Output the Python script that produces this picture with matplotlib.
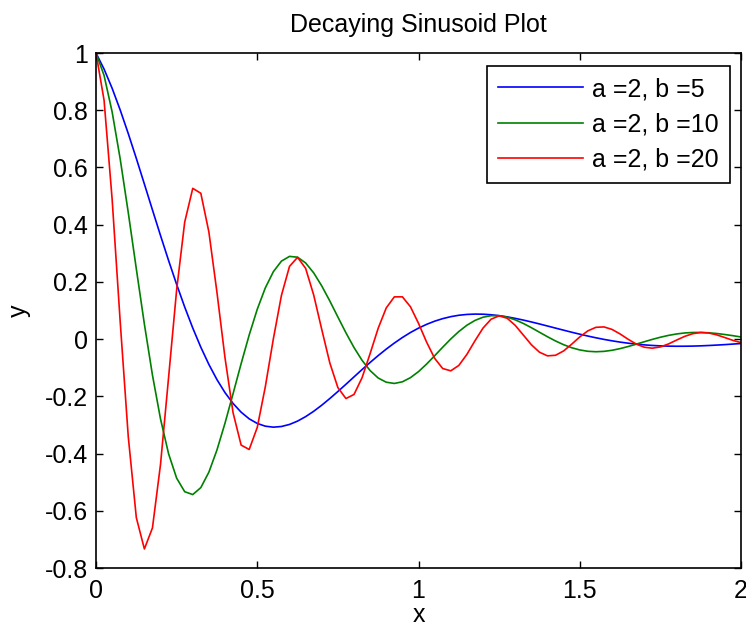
import numpy as np
import matplotlib
matplotlib.use('Agg')
from matplotlib import pyplot as plt

plt.rcParams['font.family'] = ['Liberation Sans', 'DejaVu Sans']

# x grid, step 0.025 from 0 to 2
x = np.linspace(0, 2, 81)

# values, a = 2, b = 5
y_b5 = [1.000, 0.9438, 0.8767, 0.8009, 0.7185, 0.6316, 0.5420, 0.4517, 0.3622, 0.2749,
        0.1913, 0.1122, 0.0388, -0.0283, -0.0885, -0.1415, -0.1870, -0.2249, -0.2554, -0.2786,
        -0.2947, -0.3043, -0.3077, -0.3054, -0.2982, -0.2865, -0.2709, -0.2522, -0.2309, -0.2076,
        -0.1831, -0.1578, -0.1320, -0.1063, -0.0815, -0.0575, -0.0348, -0.0138, 0.0056, 0.0231,
        0.0384, 0.0516, 0.0627, 0.0716, 0.0785, 0.0834, 0.0863, 0.0875, 0.0871, 0.0852,
        0.0820, 0.0778, 0.0725, 0.0666, 0.0600, 0.0531, 0.0458, 0.0385, 0.0313, 0.0241,
        0.0173, 0.0108, 0.0047, -0.0009, -0.0059, -0.0104, -0.0142, -0.0174, -0.0201, -0.0221,
        -0.0236, -0.0245, -0.0249, -0.0248, -0.0244, -0.0235, -0.0223, -0.0208, -0.0192, -0.0173,
        -0.0154]

# a = 2, b = 10
y_b10 = [1.000, 0.9216, 0.7941, 0.6298, 0.4424, 0.2456, 0.0524, -0.1256, -0.2789, -0.4006,
         -0.4859, -0.5333, -0.5433, -0.5190, -0.4650, -0.3876, -0.2937, -0.1907, -0.0857, 0.0145,
         0.1044, 0.1791, 0.2359, 0.2727, 0.2892, 0.2863, 0.2662, 0.2315, 0.1859, 0.1333,
         0.0773, 0.0220, -0.0294, -0.0742, -0.1100, -0.1359, -0.1506, -0.1549, -0.1492, -0.1347,
         -0.1136, -0.0873, -0.0582, -0.0283, 0.0005, 0.0265, 0.0485, 0.0653, 0.0766, 0.0820,
         0.0819, 0.0768, 0.0674, 0.0548, 0.0400, 0.0241, 0.0083, -0.0065, -0.0195, -0.0301,
         -0.0378, -0.0425, -0.0441, -0.0428, -0.0390, -0.0332, -0.0259, -0.0177, -0.0092, -0.0009,
         0.0066, 0.0130, 0.0180, 0.0215, 0.0232, 0.0234, 0.0221, 0.0196, 0.0161, 0.0120,
         0.0075]

# a = 2, b = 20
y_b20 = [1.000, 0.8348, 0.4889, 0.0609, -0.3407, -0.6239, -0.7334, -0.6599, -0.4381, -0.1344,
         0.1721, 0.4089, 0.5270, 0.5098, 0.3744, 0.1637, -0.0654, -0.2573, -0.3704, -0.3857,
         -0.3087, -0.1664, 0.0015, 0.1530, 0.2542, 0.2859, 0.2473, 0.1542, 0.0337, -0.0832,
         -0.1695, -0.2077, -0.1934, -0.1349, -0.0503, 0.0381, 0.1091, 0.1477, 0.1479, 0.1132,
         0.0552, -0.0102, -0.0671, -0.1027, -0.1108, -0.0920, -0.0534, -0.0059, 0.0385, 0.0696,
         0.0814, 0.0729, 0.0480, 0.0143, -0.0196, -0.0457, -0.0585, -0.0564, -0.0412, -0.0177,
         0.0077, 0.0288, 0.0412, 0.0427, 0.0340, 0.0181, -0.0005, -0.0172, -0.0283, -0.0317,
         -0.0273, -0.0169, -0.0035, 0.0094, 0.0189, 0.0231, 0.0214, 0.0148, 0.0054, -0.0044,
         -0.0122]

labels = ['a =2, b =5', 'a =2, b =10', 'a =2, b =20']
colors = ['#0000ff', '#008000', '#ff0000']

fs = 18

fig = plt.figure(figsize=(7.46, 6.35), dpi=100)
ax = fig.add_axes([0.1287, 0.1055, 0.8646, 0.811])

for y, lab, c in zip([y_b5, y_b10, y_b20], labels, colors):
    ax.plot(x, y, color=c, lw=1.2, label=lab)

ax.set_xlim(0, 2)
ax.set_ylim(-0.8, 1)
ax.set_xticks([0, 0.5, 1, 1.5, 2])
ax.set_xticklabels(['0', '0.5', '1', '1.5', '2'])
ax.set_yticks([-0.8, -0.6, -0.4, -0.2, 0, 0.2, 0.4, 0.6, 0.8, 1])
ax.set_yticklabels(['-0.8', '-0.6', '-0.4', '-0.2', '0', '0.2', '0.4', '0.6', '0.8', '1'])
ax.tick_params(direction='in', length=5, width=1, labelsize=fs,
               top=True, right=True)
ax.tick_params(axis='x', pad=8)
ax.tick_params(axis='y', pad=6)
for s in ax.spines.values():
    s.set_linewidth(1.2)

ax.set_title('Decaying Sinusoid Plot', fontsize=fs, pad=15)
ax.set_xlabel('x', fontsize=fs, labelpad=0)
ax.set_ylabel('y', fontsize=fs, labelpad=10)

leg = ax.legend(loc='upper right', bbox_to_anchor=(0.983, 0.975), borderaxespad=0,
                fontsize=fs, handlelength=3.4, handletextpad=0.35, labelspacing=0.45,
                borderpad=0.45, fancybox=False, framealpha=1, edgecolor='black')
leg.get_frame().set_linewidth(1.2)

fig.savefig('out.png', dpi=100)
